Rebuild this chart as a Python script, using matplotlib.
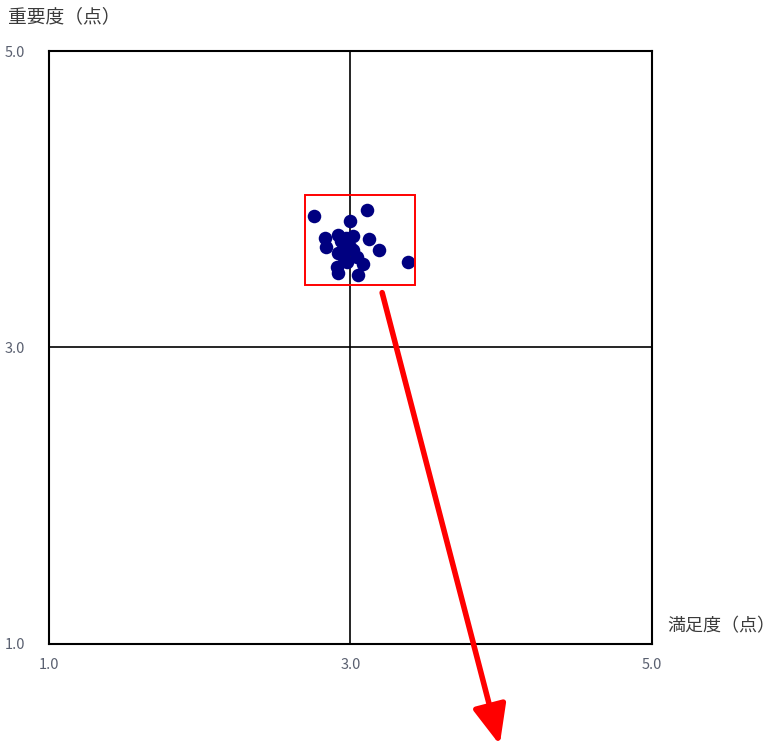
import matplotlib
matplotlib.use("Agg")
import matplotlib.pyplot as plt
from matplotlib.patches import Rectangle

plt.rcParams['font.family'] = ['Noto Sans CJK JP', 'DejaVu Sans']

# satisfaction (x) / importance (y), one dot per item
satisfaction = [2.76, 3.11, 3.00, 2.83, 2.92, 3.02, 3.12, 3.19, 2.84, 2.96, 2.92, 3.02,
                3.04, 3.08, 2.91, 2.92, 3.05, 3.38, 2.95, 2.98, 2.94, 3.00, 2.97]
importance = [3.89, 3.93, 3.85, 3.74, 3.76, 3.75, 3.73, 3.66, 3.68, 3.69, 3.64, 3.66,
              3.61, 3.56, 3.54, 3.50, 3.49, 3.58, 3.62, 3.58, 3.72, 3.68, 3.74]
ticks = [1.0, 3.0, 5.0]
tick_labels = ["1.0", "3.0", "5.0"]

fig = plt.figure(figsize=(7.76, 7.49), dpi=100)
ax = fig.add_axes([0.0631, 0.1402, 0.7771, 0.7917])

ax.set_xlim(1, 5)
ax.set_ylim(1, 5)
ax.axvline(3.0, color='black', lw=1.2, zorder=1)
ax.axhline(3.0, color='black', lw=1.2, zorder=1)

ax.scatter(satisfaction, importance, s=95, color='#000080', zorder=3, linewidths=0)

# highlight box around the cluster
ax.add_patch(Rectangle((2.698, 3.422), 0.73, 0.607, fill=False,
                       edgecolor='#ff0000', lw=1.4, zorder=4))

# red arrow pointing down out of the chart
ax.annotate('', xy=(3.99, 0.32), xytext=(3.21, 3.37), annotation_clip=False,
            arrowprops=dict(arrowstyle='-|>,head_length=0.75,head_width=0.32',
                            color='#ff0000', lw=4.0,
                            mutation_scale=32, shrinkA=0, shrinkB=0))

ax.set_xticks(ticks)
ax.set_xticklabels(tick_labels)
ax.set_yticks(ticks)
ax.set_yticklabels(tick_labels)
ax.tick_params(axis='both', length=0, labelsize=10.5, labelcolor='#5a6070')
ax.tick_params(axis='y', pad=17)
ax.tick_params(axis='x', pad=10)

for sp in ax.spines.values():
    sp.set_linewidth(1.5)
    sp.set_color('black')

fig.text(0.010, 0.978, '重要度（点）', fontsize=13.5, color='#3a3a3a', va='center', ha='left')
fig.text(0.999, 0.164, '満足度（点）', fontsize=13, color='#3a3a3a', va='center', ha='right')

fig.savefig('out.png', dpi=100)
